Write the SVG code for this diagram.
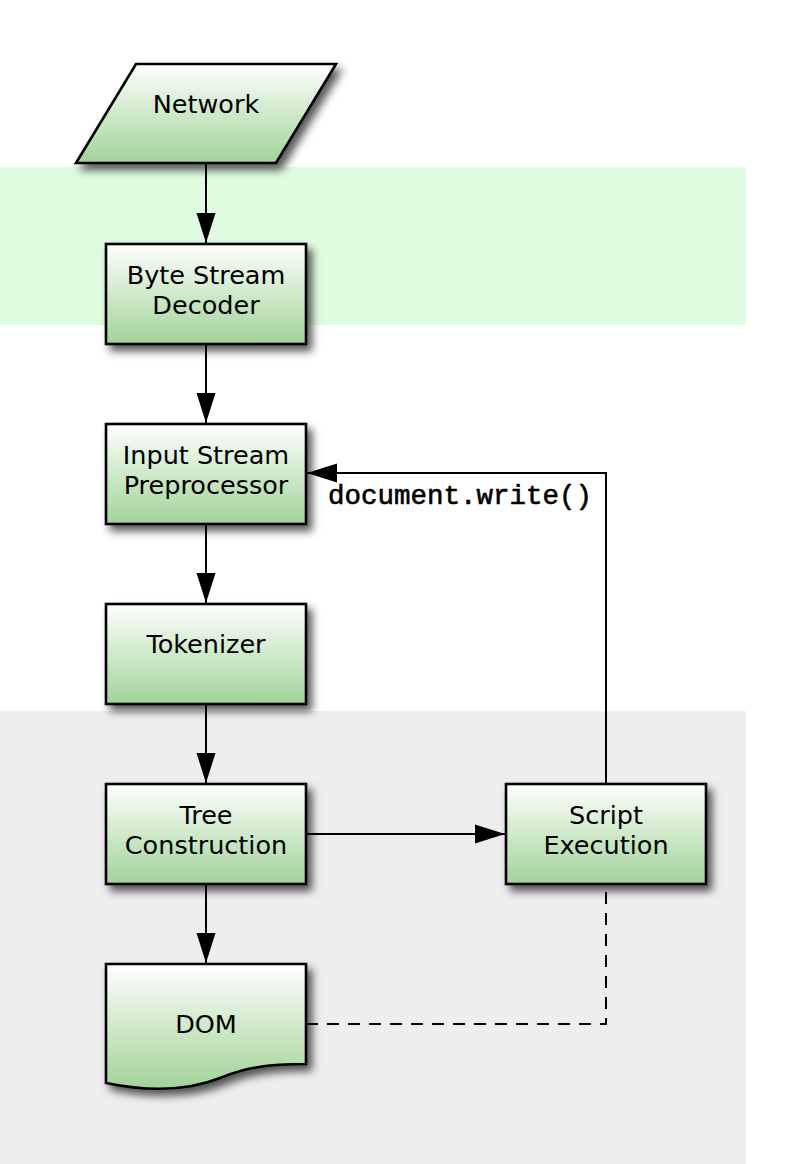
<svg xmlns="http://www.w3.org/2000/svg" width="788" height="1164" viewBox="0 0 788 1164">
<defs>
<linearGradient id="g" x1="0" y1="0" x2="0" y2="1">
<stop offset="0" stop-color="#ffffff"/>
<stop offset="0.5" stop-color="#cfe9ca"/>
<stop offset="1" stop-color="#a2d29a"/>
</linearGradient>
<filter id="sh" x="-20%" y="-20%" width="150%" height="150%">
<feDropShadow dx="5" dy="6" stdDeviation="4.5" flood-color="#000" flood-opacity="0.65"/>
</filter>
<marker id="arr" markerWidth="30" markerHeight="20" refX="30" refY="10" orient="auto" markerUnits="userSpaceOnUse">
<path d="M0,0.5 L30,10 L0,19.5 Z" fill="#000"/>
</marker>
<style>
.n{fill:url(#g);stroke:#000;stroke-width:2.6;filter:url(#sh)}
.t{font-family:"DejaVu Sans","Liberation Sans",sans-serif;font-size:25.5px;fill:#000;text-anchor:middle}
.c{fill:none;stroke:#000;stroke-width:2}
.d{fill:none;stroke:#000;stroke-width:2;stroke-dasharray:12 9}
.m{font-family:"Liberation Mono","Courier New",monospace;font-size:27.5px;fill:#000;stroke:#000;stroke-width:0.6}
</style>
</defs>
<rect x="0" y="0" width="788" height="1164" fill="#ffffff"/>
<rect x="0" y="167" width="746" height="158" fill="#e0fce0"/>
<rect x="0" y="711" width="746" height="453" fill="#eeeeee"/>
<g id="connectors">
<line class="c" x1="206" y1="163" x2="206" y2="243" marker-end="url(#arr)"/>
<line class="c" x1="206" y1="344" x2="206" y2="423" marker-end="url(#arr)"/>
<line class="c" x1="206" y1="524" x2="206" y2="603" marker-end="url(#arr)"/>
<line class="c" x1="206" y1="704" x2="206" y2="783" marker-end="url(#arr)"/>
<line class="c" x1="206" y1="884" x2="206" y2="963" marker-end="url(#arr)"/>
<line class="c" x1="306" y1="834" x2="505" y2="834" marker-end="url(#arr)"/>
<polyline class="c" points="606,784 606,473 307,473" marker-end="url(#arr)"/>
<text class="m" x="328" y="504">document.write()</text>
<polyline class="d" points="306,1024 606,1024 606,884"/>
</g>
<g id="network">
<path class="n" d="M136,64 H336 L276,163 H76 Z"/>
<text class="t" x="206" y="113">Network</text>
</g>
<g id="byte-stream-decoder">
<rect class="n" x="106" y="244" width="200" height="100"/>
<text class="t" x="206" y="284">Byte Stream</text>
<text class="t" x="206" y="314">Decoder</text>
</g>
<g id="input-stream-preprocessor">
<rect class="n" x="106" y="424" width="200" height="100"/>
<text class="t" x="206" y="464">Input Stream</text>
<text class="t" x="206" y="494">Preprocessor</text>
</g>
<g id="tokenizer">
<rect class="n" x="106" y="604" width="200" height="100"/>
<text class="t" x="206" y="653">Tokenizer</text>
</g>
<g id="tree-construction">
<rect class="n" x="106" y="784" width="200" height="100"/>
<text class="t" x="206" y="824">Tree</text>
<text class="t" x="206" y="854">Construction</text>
</g>
<g id="script-execution">
<rect class="n" x="506" y="784" width="200" height="100"/>
<text class="t" x="606" y="824">Script</text>
<text class="t" x="606" y="854">Execution</text>
</g>
<g id="dom">
<path class="n" d="M106,964 H306 V1064 C266,1064 244,1068 220,1078 C190,1090 150,1092 106,1083 Z"/>
<text class="t" x="206" y="1033">DOM</text>
</g>
</svg>
